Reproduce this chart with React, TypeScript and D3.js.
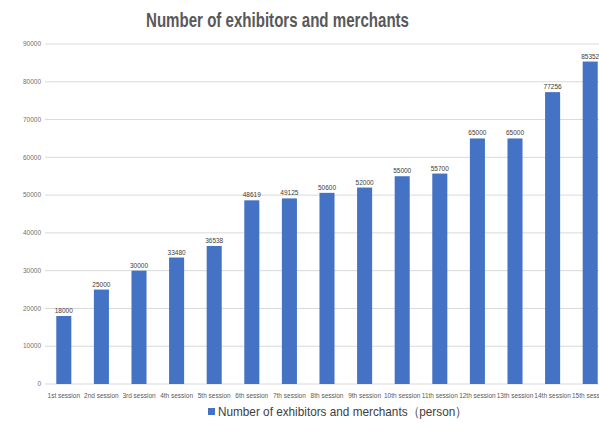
import React from "react";
import * as d3 from "d3";

const categories = ["1st session","2nd session","3rd session","4th session","5th session","6th session","7th session","8th session","9th session","10th session","11th session","12th session","13th session","14th session","15th session"];
const values = [18000,25000,30000,33480,36538,48619,49125,50600,52000,55000,55700,65000,65000,77256,85352];
const yTicks = [0,10000,20000,30000,40000,50000,60000,70000,80000,90000];
const title = "Number of exhibitors and merchants";
const legendLabel = "Number of exhibitors and merchants（person）";

export default function App() {
  const W = 599, H = 423;
  const left = 45, step = 37.6;
  const x = d3.scaleBand<string>().domain(categories).range([left, left + step * categories.length]).paddingInner(0.6).paddingOuter(0.3);
  const y = d3.scaleLinear().domain([0, 90000]).range([384, 44]);
  const font = "'Liberation Sans', Arial, sans-serif";
  return (
    <svg width={W} height={H} style={{ position: "absolute", left: 0, top: 0, background: "#fff" }} fontFamily={font}>
      <rect width={W} height={H} fill="#fff" />
      <text x={146} y={27} fontSize={20} fontWeight="bold" fill="#595959" textLength={263} lengthAdjust="spacingAndGlyphs">{title}</text>
      {yTicks.map(t => (
        <g key={t}>
          <line x1={left} x2={W} y1={y(t)} y2={y(t)} stroke="#d9d9d9" strokeWidth={1} />
          <text x={41} y={y(t)} dy="0.35em" textAnchor="end" fontSize={6.5} fill="#6f6f6f">{t}</text>
        </g>
      ))}
      {categories.map((c, i) => (
        <g key={c}>
          <rect x={x(c)} y={y(values[i])} width={x.bandwidth()} height={y(0) - y(values[i])} fill="#4472C4" />
          <text x={(x(c) as number) + x.bandwidth() / 2} y={y(values[i]) - 3} textAnchor="middle" fontSize={6.5} fill="#404040">{values[i]}</text>
          <text x={(x(c) as number) + x.bandwidth() / 2} y={398} textAnchor="middle" fontSize={6.5} fill="#595959">{c}</text>
        </g>
      ))}
      <rect x={208} y={408} width={7} height={7} fill="#4472C4" />
      <text x={218} y={416} fontSize={13} fill="#404040" textLength={249} lengthAdjust="spacingAndGlyphs">{legendLabel}</text>
    </svg>
  );
}
